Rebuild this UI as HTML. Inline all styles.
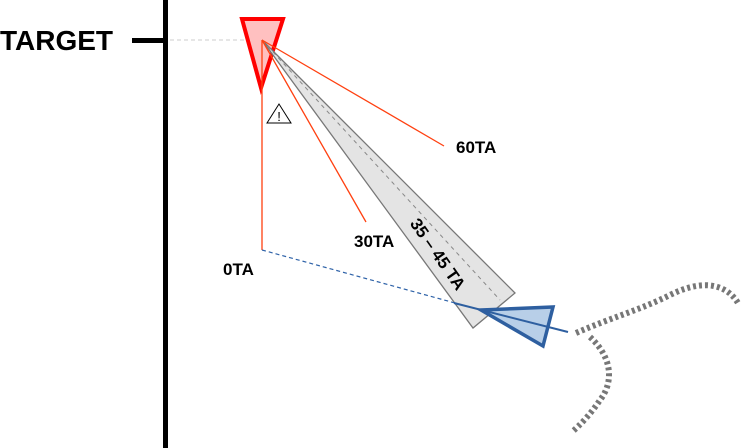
<!DOCTYPE html>
<html><head><style>html,body{margin:0;padding:0;background:#fff}svg{display:block}</style></head>
<body>
<svg width="741" height="448" viewBox="0 0 741 448" xmlns="http://www.w3.org/2000/svg" font-family="Liberation Sans, sans-serif" font-weight="bold">
<rect x="163" y="0" width="5" height="448" fill="#000"/>
<rect x="132" y="38" width="31" height="5" fill="#000"/>
<text x="0" y="50" font-size="28" fill="#000">TARGET</text>
<line x1="170" y1="40" x2="245" y2="40" stroke="#ccc" stroke-width="1" stroke-dasharray="4,3"/>
<polygon points="242,19 283,19 261,88" fill="#ffc0c0" stroke="#ff0000" stroke-width="4" stroke-linejoin="miter"/>
<polygon points="262,40 515,293 473,328" fill="#e4e4e4" stroke="#777" stroke-width="1.3"/>
<line x1="262" y1="40" x2="500" y2="300" stroke="#888" stroke-width="1" stroke-dasharray="4,4"/>
<line x1="262" y1="40" x2="262" y2="250" stroke="#ff4010" stroke-width="1.3"/>
<line x1="262" y1="40" x2="366" y2="222" stroke="#ff4010" stroke-width="1.3"/>
<line x1="262" y1="40" x2="444" y2="146" stroke="#ff4010" stroke-width="1.3"/>
<polygon points="279,104 267,123 291,123" fill="#fff" stroke="#000" stroke-width="1"/>
<text x="279" y="121" font-size="13" text-anchor="middle" font-weight="normal">!</text>
<line x1="262" y1="250" x2="455" y2="303" stroke="#2e62a8" stroke-width="1.2" stroke-dasharray="4,3"/>
<polygon points="481,310 553,307 543,346" fill="#b8cfe8" stroke="#2e5fa0" stroke-width="3.5" stroke-linejoin="miter"/>
<line x1="454" y1="303" x2="568" y2="332" stroke="#2e5fa0" stroke-width="2"/>
<path d="M576,333 C610,318 640,310 670,295 C700,280 725,282 738,303" fill="none" stroke="#777" stroke-width="6" stroke-dasharray="3,3"/>
<path d="M590,337 C615,360 612,385 600,400 C590,415 580,425 572,432" fill="none" stroke="#777" stroke-width="6" stroke-dasharray="3,3"/>
<text x="456" y="153" font-size="17">60TA</text>
<text x="354" y="247" font-size="17">30TA</text>
<text x="223" y="275" font-size="17">0TA</text>
<text x="0" y="6" font-size="17" transform="translate(438,254) rotate(55)" text-anchor="middle">35 – 45 TA</text>
</svg>
</body></html>
